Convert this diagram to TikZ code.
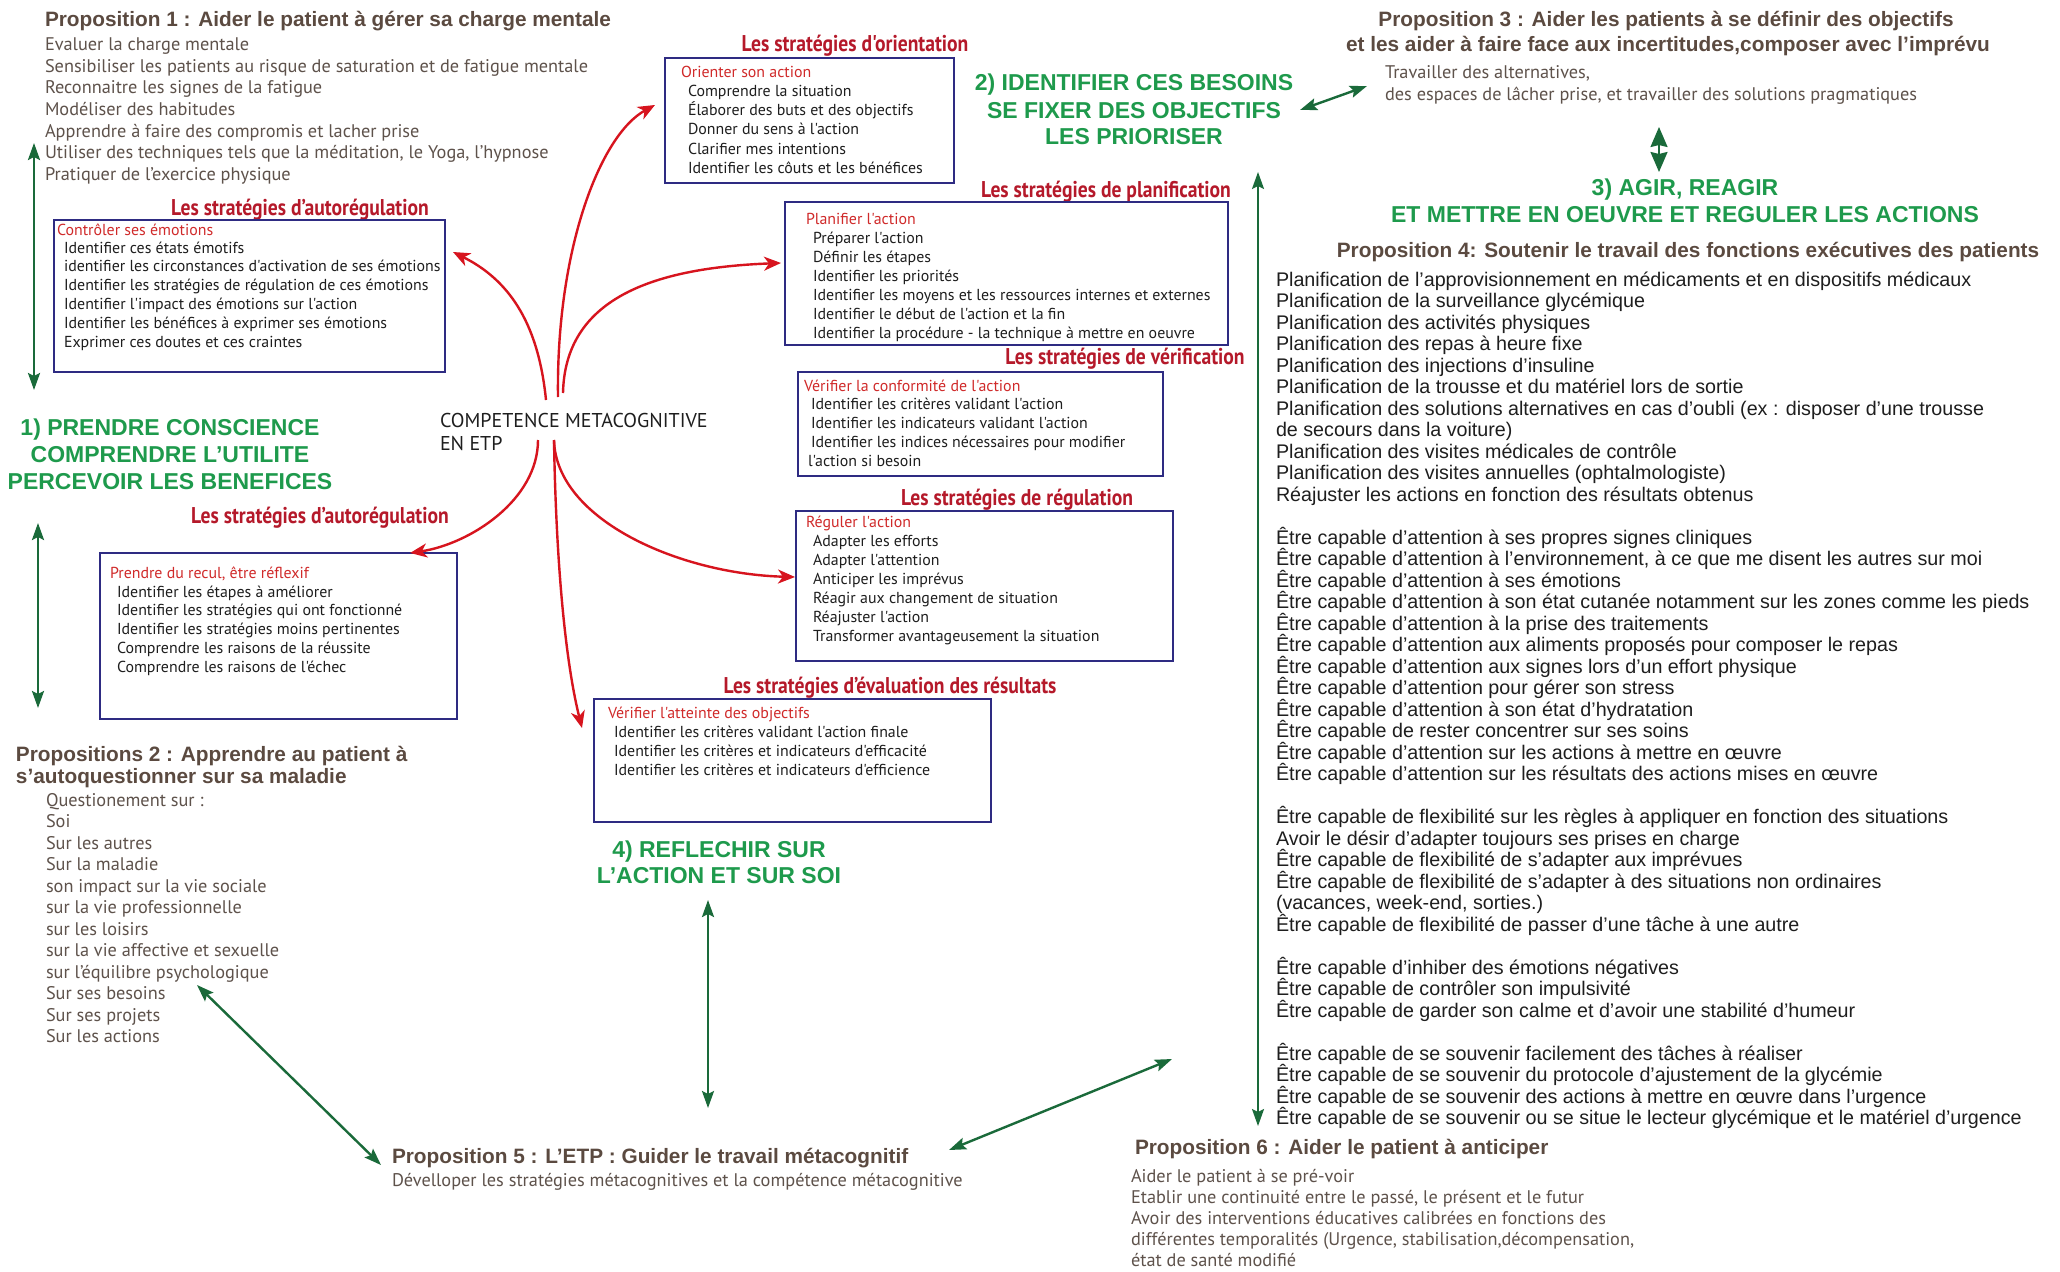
\documentclass[tikz,border=0pt]{standalone}
\usepackage{fontspec}
\setmainfont{Liberation Sans}
\newfontfamily\arialf{Liberation Sans}
\newfontfamily\myr{PT Sans}
\newfontfamily\myrc[FakeStretch=0.86]{PT Sans}
\usetikzlibrary{arrows.meta}
\definecolor{hgreen}{HTML}{1E9A4C}
\definecolor{agreen}{HTML}{1A6A3A}
\definecolor{ared}{HTML}{D7141E}
\definecolor{tred}{HTML}{B5192A}
\definecolor{ired}{HTML}{D02A2A}
\definecolor{navy}{HTML}{2E2B82}
\definecolor{brownh}{HTML}{5B4A40}
\definecolor{browni}{HTML}{5E524B}
\definecolor{txt}{HTML}{1E1E1E}
\tikzset{
  every node/.style={inner sep=0pt, outer sep=0pt},
  propH/.style={font=\arialf\bfseries\fontsize{20.8}{25}\selectfont, text=brownh, anchor=base west},
  propI/.style={font=\myr\fontsize{18.3}{21}\selectfont, text=browni, anchor=base west},
  greenH/.style={font=\arialf\bfseries\fontsize{23}{27}\selectfont, text=hgreen, anchor=base},
  stratT/.style={font=\myrc\bfseries\fontsize{22.8}{25}\selectfont, text=tred, anchor=base},
  boxT/.style={font=\myr\fontsize{15.9}{19}\selectfont, text=ired, anchor=base west},
  boxI/.style={font=\myr\fontsize{15.9}{19}\selectfont, text=txt, anchor=base west},
  p4I/.style={font=\arialf\fontsize{19.7}{21.5}\selectfont, text=txt, anchor=base west},
  compT/.style={font=\myr\fontsize{20}{22}\selectfont, text=txt, anchor=base west},
  sbox/.style={draw=navy, line width=2pt, anchor=north west},
  rarr/.style={draw=ared, line width=2.4pt, -{Stealth[length=17pt,width=14pt,inset=5pt]}},
  garr/.style={draw=agreen, line width=2.4pt, {Stealth[length=17pt,width=12pt,inset=3pt]}-{Stealth[length=17pt,width=12pt,inset=3pt]}},
  garrd/.style={draw=agreen, line width=2pt, {Stealth[length=20pt,width=17pt,inset=2pt]}-{Stealth[length=20pt,width=17pt,inset=2pt]}}
}
\begin{document}
\begin{tikzpicture}[x=1pt,y=-1pt]
\fill[white] (0,0) rectangle (2060,1271);
\useasboundingbox (0,0) rectangle (2060,1271);

% ---------- Proposition 1
\node[propH] (p1h) at (45,27) {Proposition 1 : Aider le patient à gérer sa charge mentale};
\foreach \n/\txt in {0/{Evaluer la charge mentale},1/{Sensibiliser les patients au risque de saturation et de fatigue mentale},2/{Reconnaitre les signes de la fatigue},3/{Modéliser des habitudes},4/{Apprendre à faire des compromis et lacher prise},5/{Utiliser des techniques tels que la méditation, le Yoga, l’hypnose},6/{Pratiquer de l’exercice physique}}
  \node[propI] (p1-\n) at (45,{51+21.5*\n}) {\txt};

% ---------- box Controler
\node[stratT] (t1) at (300,215) {Les stratégies d’autorégulation};
\node[sbox, minimum width=391pt, minimum height=152pt] (bCtrl) at (54,220) {};
\node[boxT] (bCtrl-t) at (57,235) {Contrôler ses émotions};
\foreach \n/\txt in {0/{Identifier ces états émotifs},1/{identifier les circonstances d'activation de ses émotions},2/{Identifier les stratégies de régulation de ces émotions},3/{Identifier l'impact des émotions sur l'action},4/{Identifier les bénéfices à exprimer ses émotions},5/{Exprimer ces doutes et ces craintes}}
  \node[boxI] (bCtrl-\n) at (64,{253+18.8*\n}) {\txt};

% ---------- green heading 1
\node[greenH] (h1a) at (170,435) {1) PRENDRE CONSCIENCE};
\node[greenH] (h1b) at (170,462) {COMPRENDRE L’UTILITE};
\node[greenH] (h1c) at (170,489) {PERCEVOIR LES BENEFICES};

% ---------- box Recul
\node[stratT] (t2) at (320,523) {Les stratégies d’autorégulation};
\node[sbox, minimum width=357pt, minimum height=166pt] (bRecul) at (100,553) {};
\node[boxT] (bRecul-t) at (110,578) {Prendre du recul, être réflexif};
\foreach \n/\txt in {0/{Identifier les étapes à améliorer},1/{Identifier les stratégies qui ont fonctionné},2/{Identifier les stratégies moins pertinentes},3/{Comprendre les raisons de la réussite},4/{Comprendre les raisons de l'échec}}
  \node[boxI] (bRecul-\n) at (117,{597+18.8*\n}) {\txt};

% ---------- Proposition 2
\node[propH] (p2h) at (16,761) {Propositions 2 : Apprendre au patient à};
\node[propH] (p2h2) at (16,783) {s’autoquestionner sur sa maladie};
\foreach \n/\txt in {0/{Questionement sur :},1/{Soi},2/{Sur les autres},3/{Sur la maladie},4/{son impact sur la vie sociale},5/{sur la vie professionnelle},6/{sur les loisirs},7/{sur la vie affective et sexuelle},8/{sur l’équilibre psychologique},9/{Sur ses besoins},10/{Sur ses projets},11/{Sur les actions}}
  \node[propI] (p2-\n) at (46,{806+21.5*\n}) {\txt};

% ---------- centre
\node[compT] (comp1) at (440,427) {COMPETENCE METACOGNITIVE};
\node[compT] (comp2) at (440,450) {EN ETP};

% ---------- Orientation
\node[stratT] (t3) at (855,52) {Les stratégies d'orientation};
\node[sbox, minimum width=289pt, minimum height=125pt] (bOrient) at (665,58) {};
\node[boxT] (bOrient-t) at (681,78) {Orienter son action};
\foreach \n/\txt in {0/{Comprendre la situation},1/{Élaborer des buts et des objectifs},2/{Donner du sens à l'action},3/{Clarifier mes intentions},4/{Identifier les côuts et les bénéfices}}
  \node[boxI] (bOrient-\n) at (688,{97+19*\n}) {\txt};

% ---------- green heading 2
\node[greenH] (h2a) at (1134,91) {2) IDENTIFIER CES BESOINS};
\node[greenH] (h2b) at (1134,118) {SE FIXER DES OBJECTIFS};
\node[greenH] (h2c) at (1134,145) {LES PRIORISER};

% ---------- Planification
\node[stratT] (t4) at (1106,197) {Les stratégies de planification};
\node[sbox, minimum width=443pt, minimum height=143pt] (bPlan) at (785,202) {};
\node[boxT] (bPlan-t) at (806,224) {Planifier l'action};
\foreach \n/\txt in {0/{Préparer l'action},1/{Définir les étapes},2/{Identifier les priorités},3/{Identifier les moyens et les ressources internes et externes},4/{Identifier le début de l'action et la fin},5/{Identifier la procédure - la technique à mettre en oeuvre}}
  \node[boxI] (bPlan-\n) at (813,{243+19*\n}) {\txt};

% ---------- Verification
\node[stratT] (t5) at (1125,364) {Les stratégies de vérification};
\node[sbox, minimum width=365pt, minimum height=104pt] (bVerif) at (798,372) {};
\node[boxT] (bVerif-t) at (804,391) {Vérifier la conformité de l'action};
\foreach \n/\txt in {0/{Identifier les critères validant l'action},1/{Identifier les indicateurs validant l'action},2/{Identifier les indices nécessaires pour modifier}}
  \node[boxI] (bVerif-\n) at (811,{409+19*\n}) {\txt};
\node[boxI] (bVerif-3) at (808,466) {l'action si besoin};

% ---------- Regulation
\node[stratT] (t6) at (1017,505) {Les stratégies de régulation};
\node[sbox, minimum width=377pt, minimum height=150pt] (bReg) at (796,511) {};
\node[boxT] (bReg-t) at (806,527) {Réguler l'action};
\foreach \n/\txt in {0/{Adapter les efforts},1/{Adapter l'attention},2/{Anticiper les imprévus},3/{Réagir aux changement de situation},4/{Réajuster l'action},5/{Transformer avantageusement la situation}}
  \node[boxI] (bReg-\n) at (813,{546+19*\n}) {\txt};

% ---------- Evaluation
\node[stratT] (t7) at (890,693) {Les stratégies d’évaluation des résultats};
\node[sbox, minimum width=397pt, minimum height=123pt] (bEval) at (594,699) {};
\node[boxT] (bEval-t) at (608,718) {Vérifier l'atteinte des objectifs};
\foreach \n/\txt in {0/{Identifier les critères validant l'action finale},1/{Identifier les critères et indicateurs d'efficacité},2/{Identifier les critères et indicateurs d'efficience}}
  \node[boxI] (bEval-\n) at (614,{737+19*\n}) {\txt};

% ---------- green heading 4
\node[greenH] (h4a) at (719,857) {4) REFLECHIR SUR};
\node[greenH] (h4b) at (719,883) {L’ACTION ET SUR SOI};

% ---------- Proposition 5
\node[propH] (p5h) at (392,1163) {Proposition 5 : L’ETP : Guider le travail métacognitif};
\node[propI] (p5-0) at (392,1186) {Dévelloper les stratégies métacognitives et la compétence métacognitive};

% ---------- Proposition 3
\node[propH, anchor=base] (p3h) at (1666,27) {Proposition 3 : Aider les patients à se définir des objectifs};
\node[propH, anchor=base] (p3h2) at (1668,52) {et les aider à faire face aux incertitudes,composer avec l’imprévu};
\node[propI] (p3-0) at (1385,79) {Travailler des alternatives,};
\node[propI] (p3-1) at (1385,101) {des espaces de lâcher prise, et travailler des solutions pragmatiques};

% ---------- green heading 3
\node[greenH] (h3a) at (1685,195) {3) AGIR, REAGIR};
\node[greenH] (h3b) at (1685,222) {ET METTRE EN OEUVRE ET REGULER LES ACTIONS};

% ---------- Proposition 4
\node[propH, anchor=base] (p4h) at (1688,257) {Proposition 4: Soutenir le travail des fonctions exécutives des patients};
\foreach \n/\txt in {0/{Planification de l’approvisionnement en médicaments et en dispositifs médicaux},1/{Planification de la surveillance glycémique},2/{Planification des activités physiques},3/{Planification des repas à heure fixe},4/{Planification des injections d’insuline},5/{Planification de la trousse et du matériel lors de sortie},6/{Planification des solutions alternatives en cas d’oubli (ex : disposer d’une trousse},7/{de secours dans la voiture)},8/{Planification des visites médicales de contrôle},9/{Planification des visites annuelles (ophtalmologiste)},10/{Réajuster les actions en fonction des résultats obtenus},12/{Être capable d’attention à ses propres signes cliniques},13/{Être capable d’attention à l’environnement, à ce que me disent les autres sur moi},14/{Être capable d’attention à ses émotions},15/{Être capable d’attention à son état cutanée notamment sur les zones comme les pieds},16/{Être capable d’attention à la prise des traitements},17/{Être capable d’attention aux aliments proposés pour composer le repas},18/{Être capable d’attention aux signes lors d’un effort physique},19/{Être capable d’attention pour gérer son stress},20/{Être capable d’attention à son état d’hydratation},21/{Être capable de rester concentrer sur ses soins},22/{Être capable d’attention sur les actions à mettre en œuvre},23/{Être capable d’attention sur les résultats des actions mises en œuvre},25/{Être capable de flexibilité sur les règles à appliquer en fonction des situations},26/{Avoir le désir d’adapter toujours ses prises en charge},27/{Être capable de flexibilité de s’adapter aux imprévues},28/{Être capable de flexibilité de s’adapter à des situations non ordinaires},29/{(vacances, week-end, sorties.)},30/{Être capable de flexibilité de passer d’une tâche à une autre},32/{Être capable d’inhiber des émotions négatives},33/{Être capable de contrôler son impulsivité},34/{Être capable de garder son calme et d’avoir une stabilité d’humeur},36/{Être capable de se souvenir facilement des tâches à réaliser},37/{Être capable de se souvenir du protocole d’ajustement de la glycémie},38/{Être capable de se souvenir des actions à mettre en œuvre dans l’urgence},39/{Être capable de se souvenir ou se situe le lecteur glycémique et le matériel d’urgence}}
  \node[p4I] (p4-\n) at (1276,{286+21.51*\n}) {\txt};

% ---------- Proposition 6
\node[propH] (p6h) at (1135,1154) {Proposition 6 : Aider le patient à anticiper};
\foreach \n/\txt in {0/{Aider le patient à se pré-voir},1/{Etablir une continuité entre le passé, le présent et le futur},2/{Avoir des interventions éducatives calibrées en fonctions des},3/{différentes temporalités (Urgence, stabilisation,décompensation,},4/{état de santé modifié}}
  \node[propI] (p6-\n) at (1131,{1182+21.2*\n}) {\txt};

% ---------- red arrows
\coordinate (o1) at (546,400);
\coordinate (o2) at (558,397);
\coordinate (o3) at (563,393);
\coordinate (o4) at (538,440);
\coordinate (o5) at (554,440);
\coordinate (e1) at (453,252);
\coordinate (e2) at (655,105);
\coordinate (e3) at (781,263);
\coordinate (e4) at (410,553);
\coordinate (e5) at (795,577);
\coordinate (e6) at (582,728);
\draw[rarr] (o1) .. controls (538,320) and (507,279) .. (e1);
\draw[rarr] (o2) .. controls (556,250) and (600,135) .. (e2);
\draw[rarr] (o3) .. controls (565,300) and (650,268) .. (e3);
\draw[rarr] (o4) .. controls (538,500) and (470,544) .. (e4);
\draw[rarr] (o5) .. controls (556,520) and (680,574) .. (e5);
\draw[rarr] (o5) .. controls (556,560) and (565,660) .. (e6);

% ---------- green arrows
\coordinate (g1a) at (34,143);  \coordinate (g1b) at (34,390);
\coordinate (g2a) at (38,523);  \coordinate (g2b) at (38,708);
\coordinate (g3a) at (197,985); \coordinate (g3b) at (381,1165);
\coordinate (g4a) at (708,900); \coordinate (g4b) at (708,1108);
\coordinate (g5a) at (949,1150); \coordinate (g5b) at (1172,1059);
\coordinate (g6a) at (1258,172); \coordinate (g6b) at (1258,1126);
\coordinate (g7a) at (1300,110); \coordinate (g7b) at (1367,86);
\coordinate (g8a) at (1659,127); \coordinate (g8b) at (1659,172);
\draw[garr] (g1a) -- (g1b);
\draw[garr] (g2a) -- (g2b);
\draw[garr] (g3a) -- (g3b);
\draw[garr] (g4a) -- (g4b);
\draw[garr] (g5a) -- (g5b);
\draw[garr, line width=2pt] (g6a) -- (g6b);
\draw[garr] (g7a) -- (g7b);
\draw[garrd] (g8a) -- (g8b);
\end{tikzpicture}
\end{document}
